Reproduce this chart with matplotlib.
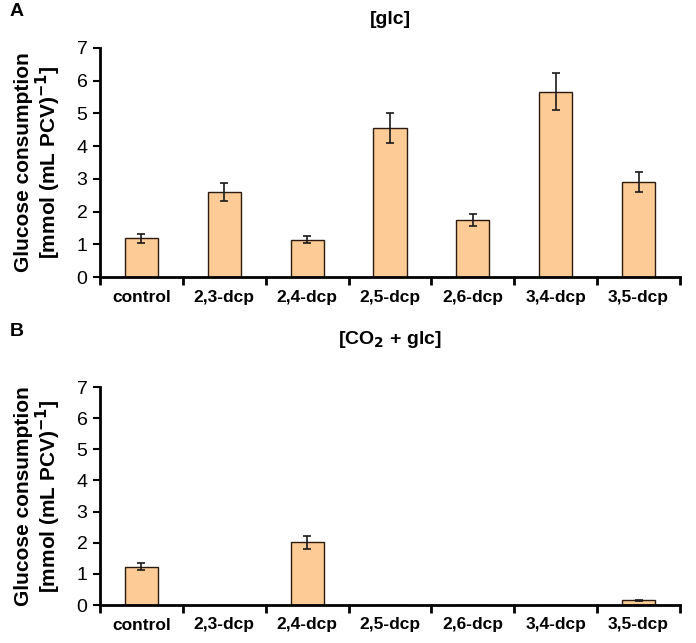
import matplotlib
matplotlib.use("Agg")
import matplotlib.pyplot as plt
import numpy as np

plt.rcParams['font.family'] = ['Liberation Sans', 'DejaVu Sans']

categories = ["control", "2,3-dcp", "2,4-dcp", "2,5-dcp", "2,6-dcp", "3,4-dcp", "3,5-dcp"]
glc_values = [1.18, 2.59, 1.14, 4.56, 1.74, 5.66, 2.91]
glc_errors = [0.13, 0.27, 0.11, 0.45, 0.18, 0.57, 0.30]
co2_values = [1.23, 0.0, 2.02, 0.0, 0.0, 0.0, 0.15]
co2_errors = [0.12, 0.0, 0.21, 0.0, 0.0, 0.0, 0.02]
yticks = [0, 1, 2, 3, 4, 5, 6, 7]

bar_color = "#FCCB96"
edge_color = "#2a1a10"

fig = plt.figure(figsize=(6.96, 6.43), dpi=100)
W, H = 696, 643
ax1 = fig.add_axes([100 / W, 1 - 277 / H, 580 / W, 229 / H])
ax2 = fig.add_axes([100 / W, 1 - 605 / H, 580 / W, 218 / H])

def draw(ax, vals, errs, title, tpad):
    x = np.arange(len(categories))
    ax.bar(x, vals, width=0.4, color=bar_color, edgecolor=edge_color, linewidth=1.0, zorder=2)
    ax.errorbar(x, vals, yerr=[e if e > 0 else np.nan for e in errs], fmt='none',
                ecolor='#1a1a1a', elinewidth=1.2, capsize=3, capthick=1.2, zorder=3)
    ax.set_xlim(-0.5, len(categories) - 0.5)
    ax.set_ylim(0, 7)
    ax.set_yticks(yticks)
    ax.set_yticklabels([str(t) for t in yticks], fontsize=14)
    ax.set_xticks(x)
    ax.set_xticklabels(categories, fontsize=12.5, fontweight='bold')
    ax.tick_params(axis='x', length=0, pad=9)
    ax.set_xticks(np.arange(-0.5, len(categories), 1.0), minor=True)
    ax.tick_params(axis='x', which='minor', length=6, width=2, direction='out')
    ax.tick_params(axis='y', length=5, width=1.5, direction='out', pad=4)
    for s in ['top', 'right']:
        ax.spines[s].set_visible(False)
    ax.spines['left'].set_linewidth(2)
    ax.spines['bottom'].set_linewidth(2)
    ax.set_ylabel("Glucose consumption\n[mmol (mL PCV)$^{\\mathbf{-1}}$]", fontsize=15,
                  fontweight='bold', linespacing=1.0, labelpad=10)
    ax.set_title(title, fontsize=14, fontweight='bold', pad=tpad)

draw(ax1, glc_values, glc_errors, "[glc]", 17)
draw(ax2, co2_values, co2_errors, "[CO$_\\mathbf{2}$ + glc]", 31)

fig.text(10 / W, 1 - 12 / H, "A", fontsize=14, fontweight='bold', va='center', ha='left')
fig.text(10 / W, 1 - 332 / H, "B", fontsize=14, fontweight='bold', va='center', ha='left')

fig.savefig("out.png", dpi=100, facecolor='white')
